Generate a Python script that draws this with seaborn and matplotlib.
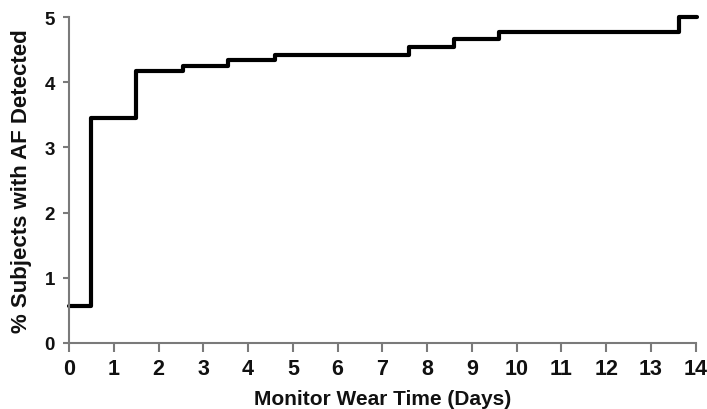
import matplotlib
matplotlib.use("Agg")
import matplotlib.pyplot as plt
import seaborn as sns
import pandas as pd

# Step data (day at which each level starts, % subjects with AF detected)
days = [0, 0.5, 1.5, 2.55, 3.55, 4.6, 7.6, 8.6, 9.6, 13.62, 14.04]
pct_af = [0.57, 3.45, 4.17, 4.25, 4.34, 4.42, 4.54, 4.66, 4.77, 5.0, 5.0]
x_ticks = list(range(0, 15))
y_ticks = [0, 1, 2, 3, 4, 5]

sns.set_style("ticks")
plt.rcParams['font.family'] = ['Liberation Sans', 'DejaVu Sans']

df = pd.DataFrame({"day": days, "pct": pct_af})

fig = plt.figure(figsize=(7.07, 4.10), dpi=100)
ax = fig.add_axes([0.0976, 0.161, 0.8864, 0.795])
sns.lineplot(data=df, x="day", y="pct", ax=ax, drawstyle="steps-post",
             color="black", linewidth=3.0, clip_on=False, estimator=None, sort=False)

ax.set_xlim(0, 14)
ax.set_ylim(0, 5)
ax.set_xticks(x_ticks)
ax.set_yticks(y_ticks)
ax.set_xticklabels([str(t) for t in x_ticks], fontweight="bold", fontsize=15.5)
ax.set_yticklabels([str(t) for t in y_ticks], fontweight="bold", fontsize=13.5)
ax.set_xlabel("Monitor Wear Time (Days)", fontweight="bold", fontsize=15, labelpad=7.5)
ax.set_ylabel("% Subjects with AF Detected", fontweight="bold", fontsize=16, labelpad=9)

for s in ["top", "right"]:
    ax.spines[s].set_visible(False)
for s in ["left", "bottom"]:
    ax.spines[s].set_color("#7a7a7a")
    ax.spines[s].set_linewidth(1.5)
ax.tick_params(axis="x", colors="#7a7a7a", width=1.5, length=6.5, labelcolor="#111111", pad=4)
ax.tick_params(axis="y", colors="#7a7a7a", width=1.5, length=4.5, labelcolor="#111111", pad=5.5)
ax.xaxis.label.set_color("#111111")
ax.yaxis.label.set_color("#111111")

fig.savefig("out.png", dpi=100)
